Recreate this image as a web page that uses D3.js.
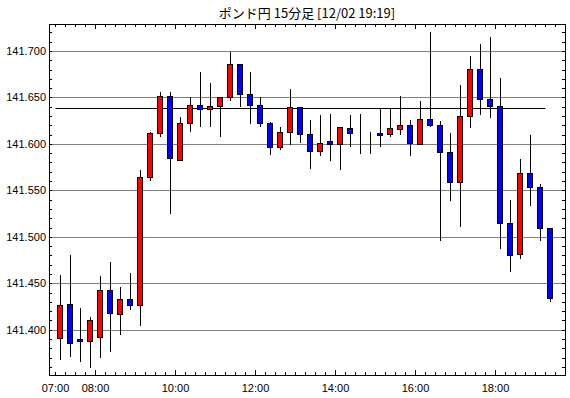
<!DOCTYPE html>
<html>
<head>
<meta charset="utf-8">
<script src="https://cdn.jsdelivr.net/npm/d3@7"></script>
<style>
  body { margin: 0; background: #fff; }
  svg { display: block; }
</style>
</head>
<body>
<div id="chart"></div>
<script>
const title = "ポンド円 15分足 [12/02 19:19]";

const times = ["07:00","07:15","07:30","07:45","08:00","08:15","08:30","08:45",
  "09:00","09:15","09:30","09:45","10:00","10:15","10:30","10:45",
  "11:00","11:15","11:30","11:45","12:00","12:15","12:30","12:45",
  "13:00","13:15","13:30","13:45","14:00","14:15","14:30","14:45",
  "15:00","15:15","15:30","15:45","16:00","16:15","16:30","16:45",
  "17:00","17:15","17:30","17:45","18:00","18:15","18:30","18:45",
  "19:00","19:15"];

const open = [141.391,141.428,141.390,141.388,141.392,141.443,141.417,141.433,
  141.427,141.564,141.612,141.652,141.583,141.622,141.642,141.638,
  141.641,141.651,141.686,141.654,141.642,141.622,141.597,141.613,
  141.640,141.611,141.592,141.603,141.600,141.617,141.612,141.612,
  141.612,141.611,141.616,141.620,141.600,141.627,141.620,141.591,
  141.559,141.630,141.681,141.648,141.641,141.515,141.481,141.569,
  141.554,141.510];
const high = [141.460,141.482,141.424,141.415,141.459,141.474,141.447,141.462,
  141.573,141.614,141.657,141.657,141.630,141.652,141.678,141.667,
  141.651,141.700,141.686,141.679,141.652,141.625,141.619,141.660,
  141.641,141.627,141.632,141.633,141.618,141.632,141.633,141.614,
  141.639,141.640,141.653,141.627,141.647,141.722,141.626,141.613,
  141.664,141.696,141.709,141.716,141.672,141.541,141.585,141.611,
  141.558,141.510];
const low = [141.368,141.372,141.366,141.360,141.371,141.377,141.395,141.422,
  141.405,141.561,141.608,141.526,141.583,141.614,141.619,141.619,
  141.608,141.647,141.641,141.623,141.619,141.589,141.595,141.600,
  141.602,141.574,141.588,141.583,141.573,141.598,141.590,141.590,
  141.598,141.608,141.611,141.588,141.600,141.619,141.497,141.540,
  141.512,141.618,141.632,141.629,141.488,141.463,141.477,141.534,
  141.497,141.431];
const close = [141.427,141.386,141.388,141.410,141.443,141.418,141.433,141.427,
  141.564,141.612,141.652,141.585,141.623,141.642,141.638,141.641,
  141.651,141.686,141.654,141.642,141.622,141.597,141.613,141.640,
  141.611,141.592,141.601,141.600,141.618,141.612,141.612,141.612,
  141.610,141.617,141.620,141.601,141.627,141.620,141.591,141.559,
  141.630,141.681,141.648,141.641,141.515,141.480,141.569,141.554,
  141.510,141.434];

const refLevel = 141.639;
const yLabels = [141.400, 141.450, 141.500, 141.550, 141.600, 141.650, 141.700];
const xLabels = ["07:00","08:00","10:00","12:00","14:00","16:00","18:00"];
const xMajor = ["08:00","10:00","12:00","14:00","16:00","18:00"];

const width = 570, height = 398;
const plot = {left: 49, right: 565, top: 24, bottom: 375};

const parse = d3.timeParse("%H:%M");
const data = times.map((t, i) => ({t: parse(t), o: open[i], h: high[i], l: low[i], c: close[i]}));

const x = d3.scaleTime()
  .domain([parse("06:51"), parse("19:45")])
  .range([plot.left, plot.right]);
const y = d3.scaleLinear()
  .domain([141.35124, 141.72906])
  .range([plot.bottom, plot.top]);

const py = v => Math.round(y(v)) + 0.5;
const cx = d => x(new Date(+d.t + 7.5 * 60000)) + 0.5;

const svg = d3.select("#chart").append("svg")
  .attr("width", width)
  .attr("height", height)
  .style("font-family", "'Liberation Sans', Arial, sans-serif");

// title
svg.append("text")
  .attr("x", (plot.left + plot.right) / 2)
  .attr("y", 18)
  .attr("text-anchor", "middle")
  .style("font-family", "'Noto Sans CJK JP', sans-serif")
  .style("font-size", "13px")
  .text(title);

// dotted grid
svg.append("g")
  .selectAll("line")
  .data(yLabels)
  .join("line")
  .attr("x1", plot.left + 0.5)
  .attr("x2", plot.right + 0.5)
  .attr("y1", py)
  .attr("y2", py)
  .attr("stroke", "#000")
  .attr("stroke-dasharray", "1,1");

// reference level
svg.append("line")
  .attr("x1", x(parse("07:00")) + 0.5)
  .attr("x2", x(parse("19:15")) + 0.5)
  .attr("y1", py(refLevel))
  .attr("y2", py(refLevel))
  .attr("stroke", "#000");

// axes
const minorX = d3.timeMinute.every(15).range(parse("07:00"), parse("19:46"));
const minorY = d3.range(141.36, 141.725, 0.01);

function clean(g) {
  g.select(".domain").remove();
  g.attr("shape-rendering", "crispEdges");
}

svg.append("g").attr("transform", `translate(0,${plot.bottom})`)
  .call(d3.axisBottom(x).tickValues(minorX).tickSize(-3).tickFormat(""))
  .call(clean);
svg.append("g").attr("transform", `translate(0,${plot.bottom})`)
  .call(d3.axisBottom(x).tickValues(xMajor.map(parse)).tickSize(-5).tickFormat(""))
  .call(clean);
svg.append("g").attr("transform", `translate(0,${plot.bottom})`)
  .call(d3.axisBottom(x).tickValues(xLabels.map(parse)).tickSize(0).tickPadding(9)
    .tickFormat(d3.timeFormat("%H:%M")))
  .call(clean)
  .selectAll("text")
  .style("font-family", "'Liberation Sans', Arial, sans-serif")
  .style("font-size", "11px");

svg.append("g").attr("transform", `translate(0,${plot.top})`)
  .call(d3.axisTop(x).tickValues(minorX).tickSize(-3).tickFormat(""))
  .call(clean);
svg.append("g").attr("transform", `translate(0,${plot.top})`)
  .call(d3.axisTop(x).tickValues(xMajor.map(parse)).tickSize(-5).tickFormat(""))
  .call(clean);

svg.append("g").attr("transform", `translate(${plot.left},0)`)
  .call(d3.axisLeft(y).tickValues(minorY).tickSize(-3).tickFormat(""))
  .call(clean);
svg.append("g").attr("transform", `translate(${plot.left},0)`)
  .call(d3.axisLeft(y).tickValues(yLabels).tickSize(0).tickPadding(3)
    .tickFormat(d3.format(".3f")))
  .call(clean)
  .selectAll("text")
  .style("font-family", "'Liberation Sans', Arial, sans-serif")
  .style("font-size", "11px");

svg.append("g").attr("transform", `translate(${plot.right},0)`)
  .call(d3.axisRight(y).tickValues(minorY).tickSize(-3).tickFormat(""))
  .call(clean);

// frame
svg.append("rect")
  .attr("x", plot.left + 0.5)
  .attr("y", plot.top + 0.5)
  .attr("width", plot.right - plot.left)
  .attr("height", plot.bottom - plot.top)
  .attr("fill", "none")
  .attr("stroke", "#000");

// candles
const candle = svg.append("g").attr("shape-rendering", "crispEdges")
  .selectAll("g")
  .data(data)
  .join("g");

candle.append("line")
  .attr("x1", cx)
  .attr("x2", cx)
  .attr("y1", d => py(d.h))
  .attr("y2", d => py(d.l))
  .attr("stroke", "#000");

candle.append("rect")
  .attr("x", d => cx(d) - 3)
  .attr("width", 5)
  .attr("y", d => py(Math.max(d.o, d.c)))
  .attr("height", d => py(Math.min(d.o, d.c)) - py(Math.max(d.o, d.c)))
  .attr("fill", d => d.c > d.o ? "#ff0000" : "#0000ff")
  .attr("stroke", "#000");
</script>
</body>
</html>
